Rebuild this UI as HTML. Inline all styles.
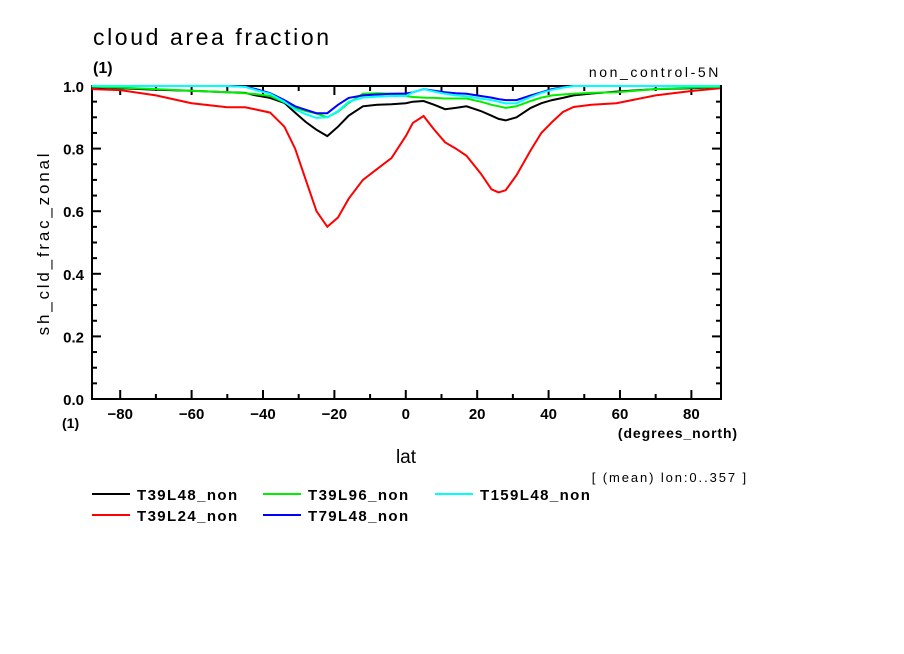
<!DOCTYPE html>
<html><head><meta charset="utf-8"><style>
html,body{margin:0;padding:0;background:#fff;}
svg{display:block;font-family:"Liberation Sans",sans-serif;}
</style></head><body>
<svg id="chart" width="904" height="654" viewBox="0 0 904 654" xmlns="http://www.w3.org/2000/svg">
<rect width="904" height="654" fill="#fff"/>
<text x="93" y="45" font-size="23" letter-spacing="2.6">cloud area fraction</text>
<text x="93" y="73" font-size="16" font-weight="bold">(1)</text>
<text x="721" y="77" font-size="14" text-anchor="end" letter-spacing="2.6">non_control-5N</text>
<text transform="translate(49,243) rotate(-90)" font-size="17" text-anchor="middle" letter-spacing="2.8">sh_cld_frac_zonal</text>
<text x="62" y="428" font-size="14" font-weight="bold">(1)</text>
<text x="406" y="463" font-size="19" text-anchor="middle">lat</text>
<text x="738" y="438" font-size="14" font-weight="bold" text-anchor="end" letter-spacing="0.9">(degrees_north)</text>
<text x="748" y="482" font-size="13" text-anchor="end" letter-spacing="1.9">[ (mean) lon:0..357 ]</text>
<g id="axes"></g>
<g id="series"></g>
<g id="legend"></g>
</svg>
<script>
const lats = [-88,-80,-70,-60,-50,-45,-42,-38,-34,-31,-28,-25,-22,-19,-16,-12,-8,-4,0,2,5,8,11,14,17,21,24,26,28,31,35,38,41,44,47,52,59,70,80,88];
const t39l48 = [0.996,0.993,0.988,0.985,0.98,0.978,0.97,0.962,0.946,0.915,0.885,0.86,0.84,0.87,0.905,0.935,0.94,0.942,0.945,0.95,0.952,0.94,0.926,0.93,0.935,0.92,0.905,0.895,0.89,0.9,0.93,0.945,0.955,0.962,0.97,0.976,0.982,0.99,0.993,0.996];
const t39l24 = [0.99,0.987,0.97,0.945,0.932,0.932,0.925,0.915,0.87,0.8,0.7,0.6,0.55,0.58,0.64,0.7,0.735,0.77,0.84,0.882,0.904,0.86,0.82,0.8,0.777,0.72,0.67,0.66,0.667,0.715,0.795,0.85,0.885,0.917,0.933,0.94,0.945,0.97,0.984,0.993];
const t39l96 = [0.998,0.995,0.99,0.985,0.98,0.977,0.974,0.968,0.948,0.93,0.92,0.912,0.9,0.918,0.946,0.975,0.977,0.975,0.968,0.965,0.963,0.962,0.96,0.96,0.96,0.95,0.94,0.935,0.93,0.935,0.952,0.963,0.97,0.973,0.975,0.978,0.98,0.99,0.995,0.997];
const t79l48 = [1.0,1.0,1.0,1.0,1.0,0.998,0.99,0.977,0.955,0.935,0.924,0.913,0.913,0.94,0.962,0.97,0.973,0.975,0.976,0.98,0.99,0.985,0.98,0.977,0.975,0.968,0.963,0.958,0.955,0.955,0.97,0.98,0.99,0.996,1.0,1.0,1.0,1.0,1.0,1.0];
const t159l48 = [1.0,1.0,1.0,1.0,1.0,0.997,0.987,0.975,0.95,0.925,0.91,0.898,0.9,0.92,0.95,0.963,0.966,0.968,0.968,0.98,0.99,0.982,0.975,0.97,0.967,0.96,0.955,0.95,0.944,0.945,0.965,0.978,0.988,0.995,1.0,1.0,1.0,1.0,1.0,1.0];
const seriesNames = ["T39L48_non","T39L24_non","T39L96_non","T79L48_non","T159L48_non"];
const xTicks = [-80,-60,-40,-20,0,20,40,60,80];
const yTicks = [0.0,0.2,0.4,0.6,0.8,1.0];

const NS = "http://www.w3.org/2000/svg";
const X0 = 92, X1 = 721, Y0 = 399, Y1 = 86;
const LMIN = -87.9, LMAX = 88.3;
function xs(l){ return X0 + (l - LMIN) / (LMAX - LMIN) * (X1 - X0); }
function ys(v){ return Y0 - v * (Y0 - Y1); }
function mk(tag, attrs, parent){ const e = document.createElementNS(NS, tag); for (const k in attrs) e.setAttribute(k, attrs[k]); parent.appendChild(e); return e; }

const axes = document.getElementById('axes');
const frame = mk('rect', {x:X0, y:Y1, width:X1-X0, height:Y0-Y1, fill:'none', stroke:'#000', 'stroke-width':2}, axes);


for (let l = -80; l <= 80; l += 10) {
  const big = l % 20 === 0, len = big ? 9 : 5, x = xs(l);
  mk('line', {x1:x, y1:Y0, x2:x, y2:Y0-len, stroke:'#000', 'stroke-width':2}, axes);
  mk('line', {x1:x, y1:Y1, x2:x, y2:Y1+len, stroke:'#000', 'stroke-width':2}, axes);
}
for (let i = 0; i <= 20; i++) {
  const v = i * 0.05, big = i % 4 === 0, len = big ? 9 : 5, y = ys(v);
  mk('line', {x1:X0, y1:y, x2:X0+len, y2:y, stroke:'#000', 'stroke-width':2}, axes);
  mk('line', {x1:X1, y1:y, x2:X1-len, y2:y, stroke:'#000', 'stroke-width':2}, axes);
}
xTicks.forEach(l => {
  const t = mk('text', {x:xs(l), y:419, 'font-size':15, 'font-weight':'bold', 'text-anchor':'middle'}, axes);
  t.textContent = (l < 0 ? '\u2212' + (-l) : l);
  
  
});
yTicks.forEach(v => {
  const t = mk('text', {x:84, y:ys(v)+6, 'font-size':15, 'font-weight':'bold', 'text-anchor':'end'}, axes);
  t.textContent = v.toFixed(1);
  
  
});

const sg = document.getElementById('series');
const allData = [t39l48, t39l24, t39l96, t79l48, t159l48];
const colors = ['#000000','#ff0000','#00ee00','#0000ff','#00ffff'];
allData.forEach((d, i) => {
  const pts = d.map((v, j) => xs(lats[j]).toFixed(1) + ',' + ys(v).toFixed(1)).join(' ');
  const p = mk('polyline', {points:pts, fill:'none', stroke:colors[i], 'stroke-width':2}, sg);
  
  
});

const lg = document.getElementById('legend');
const lx = [92, 92, 263, 263, 435], ly = [494, 515, 494, 515, 494];
seriesNames.forEach((n, i) => {
  const l = mk('line', {x1:lx[i], y1:ly[i], x2:lx[i]+38, y2:ly[i], stroke:colors[i], 'stroke-width':2}, lg);
  
  
  const t = mk('text', {x:lx[i]+45, y:ly[i]+6, 'font-size':15, 'font-weight':'bold', 'letter-spacing':1.4}, lg);
  t.textContent = n;
  
  
});
</script>
</body></html>
